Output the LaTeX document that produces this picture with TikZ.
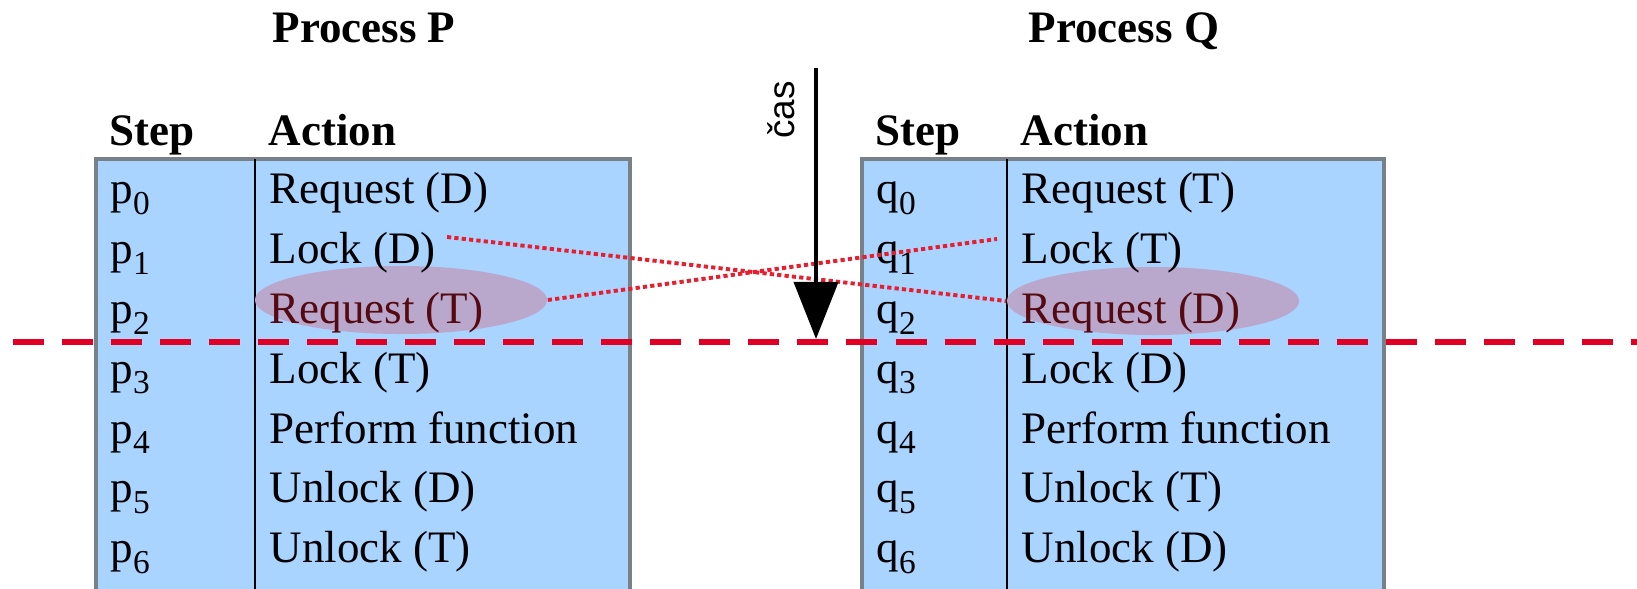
\documentclass[tikz,border=0pt]{standalone}
\usepackage{fontspec}
\setmainfont{Liberation Serif}
\newfontfamily\casfont{Liberation Sans}
\usetikzlibrary{positioning,arrows.meta,shapes.geometric}

\definecolor{boxblue}{RGB}{168,212,255}
\definecolor{boxline}{RGB}{120,128,136}
\definecolor{hilite}{RGB}{186,168,204}
\definecolor{hitext}{RGB}{85,10,18}
\definecolor{cutred}{RGB}{225,0,35}
\definecolor{waitred}{RGB}{230,30,45}
\newcommand{\stepsub}[1]{\raisebox{-3pt}{\fontsize{9.5}{10}\selectfont #1}}

\begin{document}
\begin{tikzpicture}[x=0.01cm,y=-0.01cm,
    every node/.style={inner sep=0pt,font=\fontsize{12.8}{15}\selectfont},
    cell/.style={anchor=base west},
    head/.style={anchor=base west,font=\fontsize{12.8}{15}\selectfont\bfseries},
    title/.style={anchor=base,font=\fontsize{12.8}{15}\selectfont\bfseries},
    table/.style={draw=boxline,line width=0.9pt,fill=boxblue},
    divider/.style={draw=black,line width=0.7pt},
    hiell/.style={ellipse,fill=hilite,minimum width=2.92cm,minimum height=0.68cm},
    waits/.style={draw=waitred,line width=1.1pt,dash pattern=on 1.2pt off 0.9pt},
    cutline/.style={draw=cutred,line width=1.8pt,dash pattern=on 0.31cm off 0.18cm}]
  \clip (0,0) rectangle (1637,589);
  % titles
  \node[title] (titleP) at (364,43) {Process P};
  \node[title] (titleQ) at (1124,43) {Process Q};
  % process P
  \draw[table] (96,159) rectangle (630,600);
  \draw[divider] (255,159) -- (255,600);
  \node[hiell] (hlP) at (401,300) {};
  \node[head] (stepP) at (109,146) {Step};
  \node[head] (actP) at (268,146) {Action};
  \foreach \a/\c [count=\i from 0] in {Request (D)/black,Lock (D)/black,Request (T)/hitext,Lock (T)/black,Perform function/black,Unlock (D)/black,Unlock (T)/black} {
    \node[cell] (sp\i) at (110,204+59.8*\i) {p\stepsub{\i}};
    \node[cell,text=\c] (ap\i) at (269,204+59.8*\i) {\a};
  }
  % process Q
  \draw[table] (862,159) rectangle (1384,600);
  \draw[divider] (1007,159) -- (1007,600);
  \node[hiell] (hlQ) at (1153,301) {};
  \node[head] (stepQ) at (875,146) {Step};
  \node[head] (actQ) at (1020,146) {Action};
  \foreach \a/\c [count=\i from 0] in {Request (T)/black,Lock (T)/black,Request (D)/hitext,Lock (D)/black,Perform function/black,Unlock (T)/black,Unlock (D)/black} {
    \node[cell] (sq\i) at (876,204+59.8*\i) {q\stepsub{\i}};
    \node[cell,text=\c] (aq\i) at (1021,204+59.8*\i) {\a};
  }
  % waiting on each other
  \coordinate (holdD) at (447,237);
  \coordinate (holdT) at (997,239);
  \draw[waits] (holdD) -- (hlQ.west);
  \draw[waits] (hlP.east) -- (holdT);
  % cut
  \coordinate (cutL) at (13,342);
  \coordinate (cutR) at (1637,342);
  \draw[cutline] (cutL) -- (cutR);
  % time
  \coordinate (casTop) at (816,68);
  \coordinate (casTip) at (816,339);
  \draw[line width=1.1pt,-{Triangle[length=0.57cm,width=0.44cm]}] (casTop) -- (casTip);
  \node[rotate=90,font=\casfont\fontsize{10.5}{12}\selectfont] (cas) at (781,110) {čas};
\end{tikzpicture}
\end{document}
